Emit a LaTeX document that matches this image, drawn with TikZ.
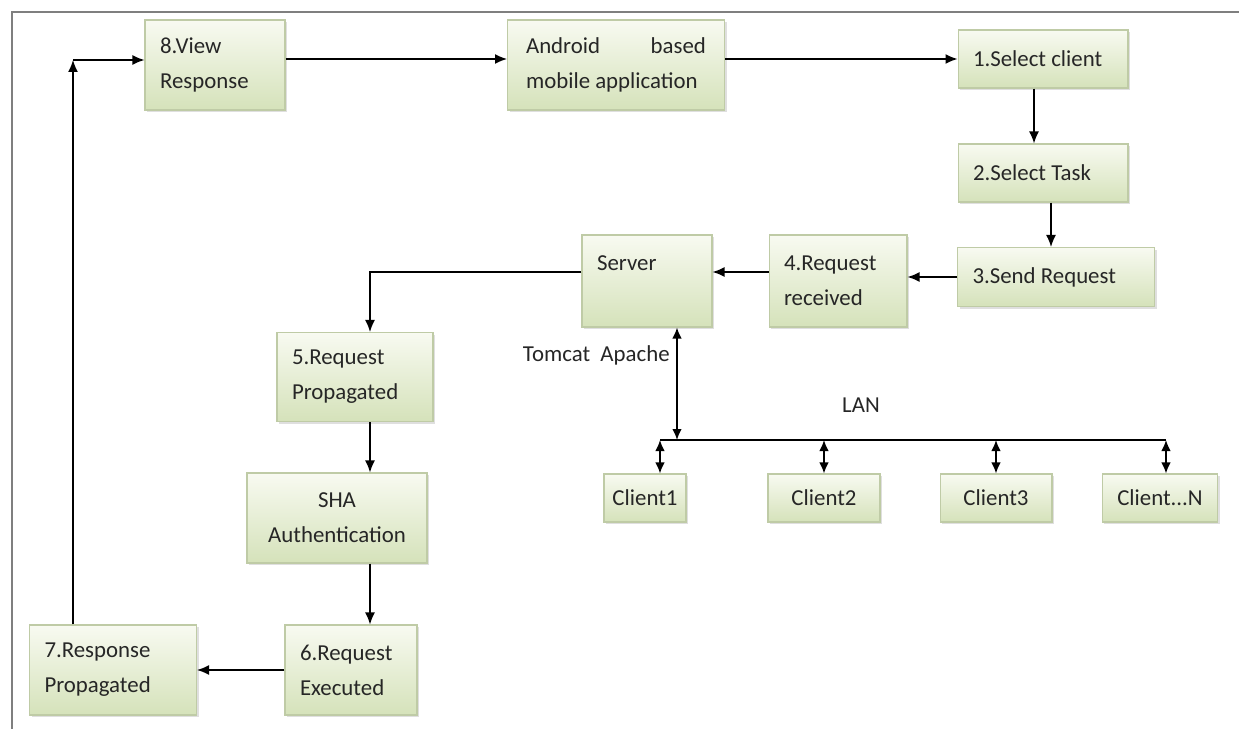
\documentclass[tikz,border=0pt]{standalone}
\usepackage{fontspec}
\setmainfont{Carlito}
\usetikzlibrary{arrows.meta,shadows}

\definecolor{boxtop}{HTML}{F8FAF1}
\definecolor{boxbot}{HTML}{D5E2BA}
\definecolor{boxline}{HTML}{BFCBA6}
\definecolor{frameline}{HTML}{7F7F7F}

\tikzset{
  box/.style={draw=boxline, line width=0.6pt, top color=boxtop, bottom color=boxbot,
    drop shadow={opacity=0.25, shadow xshift=1.2pt, shadow yshift=-1.2pt},
    text=black!85, inner xsep=0.3cm, inner ysep=2pt,
    font=\fontsize{13}{20}\selectfont},
  lbox/.style={box, align=flush left},
  cbox/.style={box, align=flush center},
  link/.style={line width=0.85pt, black},
  flow/.style={link, -{Latex[length=2.4mm,width=2mm]}},
  dflow/.style={link, {Latex[length=2.2mm,width=1.9mm]}-{Latex[length=2.2mm,width=1.9mm]}}
}

\begin{document}
\begin{tikzpicture}[x=0.02cm, y=-0.02cm]

\useasboundingbox (0,0) rectangle (1239,729);

% Frame
\draw[frameline, line width=1.1pt] (12,729) -- (12,12) -- (1239,12);

% Top row
\node[lbox, minimum width=2.8cm, minimum height=1.8cm, text width=2.2cm] (view) at (215,65) {8.View\\Response};
\node[lbox, minimum width=4.34cm, minimum height=1.8cm, text width=3.6cm] (android) at (616,65) {Android \hfill based\\mobile application};
\node[lbox, minimum width=3.4cm, minimum height=1.16cm, text width=2.8cm] (sel) at (1043,59) {1.Select client};
\node[lbox, minimum width=3.4cm, minimum height=1.16cm, text width=2.8cm] (task) at (1043,173) {2.Select Task};
\node[lbox, minimum width=3.94cm, minimum height=1.18cm, text width=3.34cm] (send) at (1056,277) {3.Send Request};

% Server row
\node[lbox, minimum width=2.76cm, minimum height=1.84cm, text width=2.16cm] (recv) at (838,281) {4.Request\\received};
\node[lbox, minimum width=2.6cm, minimum height=1.84cm, text width=2.0cm] (server) at (647,281) {Server\\\mbox{}};

% Left column
\node[lbox, minimum width=3.12cm, minimum height=1.78cm, text width=2.52cm] (prop) at (355,377) {5.Request\\Propagated};
\node[cbox, minimum width=3.6cm, minimum height=1.8cm, text width=3.0cm] (sha) at (337,518) {SHA\\Authentication};
\node[lbox, minimum width=2.64cm, minimum height=1.8cm, text width=2.04cm] (exec) at (351,670) {6.Request\\Executed};
\node[lbox, minimum width=3.34cm, minimum height=1.8cm, text width=2.74cm] (resp) at (113,670) {7.Response\\Propagated};

% Clients
\node[cbox, minimum width=1.64cm, minimum height=0.96cm, inner xsep=2pt] (c1) at (645,498) {Client1};
\node[cbox, minimum width=2.24cm, minimum height=0.96cm] (c2) at (824,498) {Client2};
\node[cbox, minimum width=2.24cm, minimum height=0.96cm] (c3) at (996,498) {Client3};
\node[cbox, minimum width=2.24cm, minimum height=0.96cm] (cN) at (1160,498) {Client...N};

% Labels
\node[font=\fontsize{13}{16}\selectfont, text=black!85, anchor=east, inner sep=0pt] (tomcat) at (670,355) {Tomcat\ \ Apache};
\node[font=\fontsize{13}{16}\selectfont, text=black!85, inner sep=0pt] (lan) at (861,405) {LAN};

\coordinate (spine) at (370,0);
\coordinate (corner) at (73,60);
\coordinate (lanL) at (660,440);
\coordinate (lanR) at (1166,440);
\coordinate (lanS) at (677,440);

% Main flow
\draw[flow] (view.east |- sel) -- (android.west |- sel);
\draw[flow] (android.east |- sel) -- (sel);
\draw[flow] ([xshift=-0.18cm]sel.south) -- ([xshift=-0.18cm]task.north);
\draw[flow] ([xshift=0.16cm]task.south) -- ([xshift=0.16cm]task.south |- send.north);
\draw[flow] (send.west) -- (send.west -| recv.east);
\draw[flow] ([yshift=0.18cm]recv.west) -- ([yshift=0.18cm]server.east);
\draw[flow] ([yshift=0.18cm]server.west) -| (spine |- prop.north);
\draw[flow] (spine |- prop.south) -- (spine |- sha.north);
\draw[flow] (spine |- sha.south) -- (spine |- exec.north);
\draw[flow] (exec.west) -- (resp.east);
\draw[flow] (corner |- resp.north) -- (corner);
\draw[flow] (corner) -- (view.west |- corner);

% LAN
\draw[link] (lanL) -- (lanR);
\draw[dflow] (lanS) -- (lanS |- server.south);
\draw[dflow] (lanL) -- (lanL |- c1.north);
\foreach \c in {c2,c3}
{
     \draw[dflow] (\c |- lanL) -- (\c.north);
}
\draw[dflow] (lanR) -- (lanR |- cN.north);

\end{tikzpicture}
\end{document}
